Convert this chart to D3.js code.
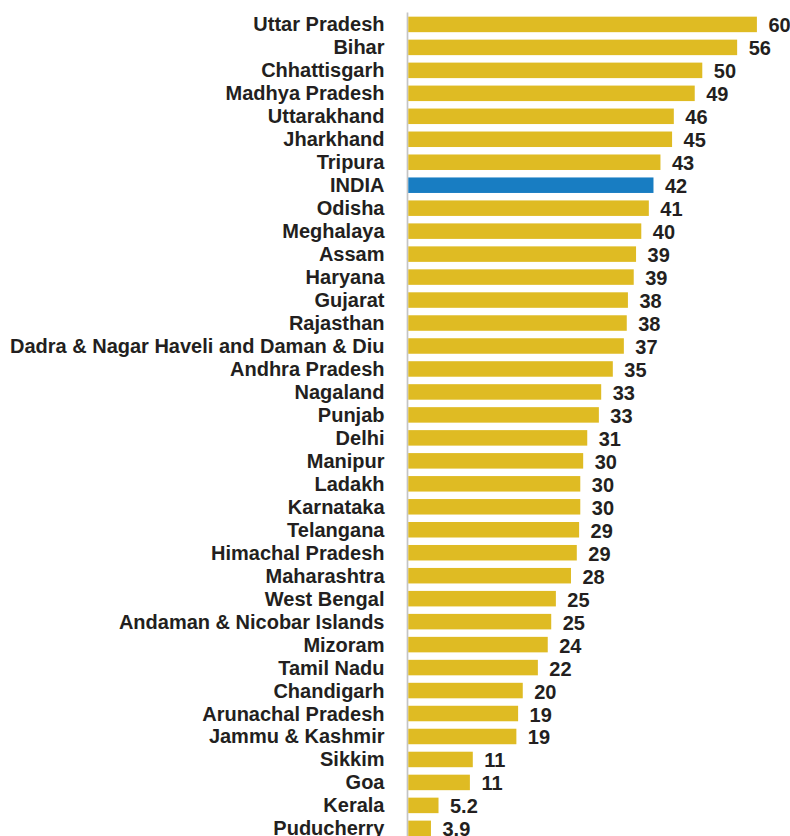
<!DOCTYPE html>
<html>
<head>
<meta charset="utf-8">
<script src="https://cdn.jsdelivr.net/npm/d3@7"></script>
<style>
  html, body { margin: 0; padding: 0; background: #ffffff; }
  svg { display: block; }
  text { font-family: "Liberation Sans", Arial, Helvetica, sans-serif; font-weight: bold; fill: #231f20; }
</style>
</head>
<body>
<svg id="chart" width="790" height="836"></svg>
<script>
const categories = ["Uttar Pradesh","Bihar","Chhattisgarh","Madhya Pradesh","Uttarakhand","Jharkhand","Tripura","INDIA","Odisha","Meghalaya","Assam","Haryana","Gujarat","Rajasthan","Dadra & Nagar Haveli and Daman & Diu","Andhra Pradesh","Nagaland","Punjab","Delhi","Manipur","Ladakh","Karnataka","Telangana","Himachal Pradesh","Maharashtra","West Bengal","Andaman & Nicobar Islands","Mizoram","Tamil Nadu","Chandigarh","Arunachal Pradesh","Jammu & Kashmir","Sikkim","Goa","Kerala","Puducherry"];
const values = [60.0,56.6,50.6,49.3,45.7,45.4,43.4,42.2,41.4,40.1,39.2,38.8,37.8,37.6,37.1,35.2,33.2,32.8,30.8,30.1,29.6,29.6,29.4,29.0,28.0,25.4,24.6,24.0,22.3,19.7,18.9,18.6,11.1,10.6,5.2,3.9];
const valueLabels = ["60","56","50","49","46","45","43","42","41","40","39","39","38","38","37","35","33","33","31","30","30","30","29","29","28","25","25","24","22","20","19","19","11","11","5.2","3.9"];
const highlight = "INDIA";

const colors = { bar: "#DFBB23", highlight: "#187DC2", axis: "#c4c4c4" };

const svg = d3.select("#chart");
const x0 = 408.3;
const x = d3.scaleLinear().domain([0, 60]).range([x0, x0 + 348.6]);
const y = d3.scaleBand().domain(categories).range([9.2, 9.2 + 36.325 * 22.97]).paddingInner(0.325).paddingOuter(0.325);

// axis line
svg.append("line")
  .attr("x1", 407.5).attr("x2", 407.5)
  .attr("y1", 12.5).attr("y2", 836)
  .attr("stroke", colors.axis).attr("stroke-width", 1.7);

const data = categories.map((c, i) => ({ c, v: values[i], l: valueLabels[i] }));

svg.selectAll("rect.bar").data(data).join("rect")
  .attr("class", "bar")
  .attr("x", x(0))
  .attr("y", d => y(d.c))
  .attr("width", d => x(d.v) - x(0))
  .attr("height", y.bandwidth())
  .attr("fill", d => d.c === highlight ? colors.highlight : colors.bar);

svg.selectAll("text.cat").data(data).join("text")
  .attr("class", "cat")
  .attr("x", 384.5)
  .attr("y", d => y(d.c) + y.bandwidth() / 2)
  .attr("dy", "0.35em")
  .attr("text-anchor", "end")
  .style("font-size", "20px")
  .text(d => d.c);

svg.selectAll("text.val").data(data).join("text")
  .attr("class", "val")
  .attr("x", d => x(d.v) + 11.5)
  .attr("y", d => y(d.c) + y.bandwidth() / 2 + 1)
  .attr("dy", "0.35em")
  .attr("text-anchor", "start")
  .style("font-size", "20px")
  .text(d => d.l);
</script>
</body>
</html>
